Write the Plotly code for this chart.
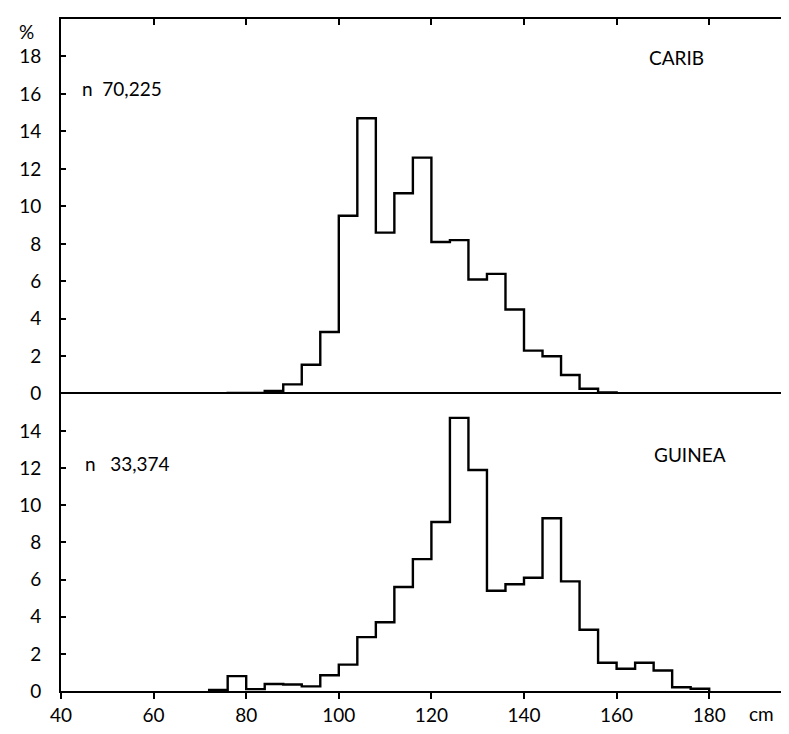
import plotly.graph_objects as go

# Bin left edges (cm), 4 cm wide bins
bin_edges = [72, 76, 80, 84, 88, 92, 96, 100, 104, 108, 112, 116, 120, 124,
             128, 132, 136, 140, 144, 148, 152, 156, 160, 164, 168, 172, 176, 180]
# Percent per bin
carib = [0, 0.05, 0.05, 0.15, 0.5, 1.55, 3.3, 9.5, 14.7, 8.6, 10.7, 12.6, 8.1, 8.2,
         6.1, 6.4, 4.5, 2.3, 2.0, 1.0, 0.27, 0.07, 0, 0, 0, 0, 0]
guinea = [0.05, 0.8, 0.1, 0.38, 0.35, 0.25, 0.85, 1.42, 2.9, 3.7, 5.6, 7.1, 9.1, 14.7,
          11.9, 5.4, 5.75, 6.1, 9.3, 5.9, 3.3, 1.52, 1.2, 1.52, 1.1, 0.2, 0.12]

x_ticks = [40, 60, 80, 100, 120, 140, 160, 180]
top_yticks = [0, 2, 4, 6, 8, 10, 12, 14, 16, 18]
bottom_yticks = [0, 2, 4, 6, 8, 10, 12, 14]

labels = {"carib": "CARIB", "guinea": "GUINEA",
          "n_carib": "n\u00a0\u00a070,225", "n_guinea": "n\u00a0\u00a0\u00a033,374"}


def steps(edges, vals):
    xs = [edges[0]]
    ys = [0]
    for i, v in enumerate(vals):
        xs.append(edges[i])
        ys.append(v)
    xs.append(edges[len(vals)])
    ys.append(0)
    return xs, ys


FONT = dict(family="Lato, 'Open Sans', sans-serif", size=19, color="black")
OFF = 8  # page body margin
W, H = 789 - 2 * OFF, 734 - 2 * OFF
ML, MT = 61 - OFF, 19 - OFF
MB = H - (695 - OFF)
MR = 0
PW, PH = W - ML - MR, H - MT - MB
split = 299 / PH

fig = go.Figure()
cx, cy = steps(bin_edges, carib)
gx, gy = steps(bin_edges, guinea)
fig.add_trace(go.Scatter(x=cx, y=cy, mode="lines", line=dict(shape="hv", color="black", width=2.4),
                         xaxis="x2", yaxis="y2", showlegend=False, hoverinfo="skip"))
fig.add_trace(go.Scatter(x=gx, y=gy, mode="lines", line=dict(shape="hv", color="black", width=2.4),
                         xaxis="x", yaxis="y", showlegend=False, hoverinfo="skip"))

xrange = [40, 40 + PW / 4.63]
fig.update_layout(
    width=W, height=H,
    margin=dict(l=ML, r=MR, t=MT, b=MB, pad=0),
    paper_bgcolor="white", plot_bgcolor="white",
    font=FONT,
    xaxis=dict(domain=[0, 1], range=xrange, tickvals=x_ticks, ticktext=[str(v) for v in x_ticks],
               ticks="outside", ticklen=6, tickwidth=2, tickcolor="black",
               showline=True, linecolor="black", linewidth=2, mirror=True,
               showgrid=False, zeroline=False, anchor="y", tickfont=FONT),
    yaxis=dict(domain=[0, split], range=[0, 16], tickvals=bottom_yticks,
               ticks="inside", ticklen=5, tickwidth=2, tickcolor="black",
               showline=True, linecolor="black", linewidth=2,
               showgrid=False, zeroline=False, anchor="x", tickfont=FONT,
               ticklabelstandoff=14),
    xaxis2=dict(domain=[0, 1], range=xrange, tickvals=x_ticks[1:], side="top",
                ticks="inside", ticklen=6, tickwidth=2, tickcolor="black",
                showticklabels=False, showline=True, linecolor="black", linewidth=2,
                showgrid=False, zeroline=False, anchor="y2"),
    yaxis2=dict(domain=[split, 1], range=[0, 20], tickvals=top_yticks,
                ticks="inside", ticklen=5, tickwidth=2, tickcolor="black",
                showline=True, linecolor="black", linewidth=2,
                showgrid=False, zeroline=False, anchor="x2", tickfont=FONT,
                ticklabelstandoff=14),
)


def px_to_paper(px, py):
    return (px - OFF - ML) / PW, (H - MB - (py - OFF)) / PH


annots = [
    (labels["n_carib"], 80, 89, "left"),
    (labels["carib"], 647, 58, "left"),
    (labels["n_guinea"], 83, 466, "left"),
    (labels["guinea"], 652, 457, "left"),
    ("%", 26, 32, "center"),
    ("cm", 747, 718, "left"),
]
for text, px, py, xa in annots:
    ax, ay = px_to_paper(px, py)
    fig.add_annotation(text=text, x=ax, y=ay, xref="paper", yref="paper",
                       xanchor=xa, yanchor="middle", showarrow=False, font=FONT)

fig.write_html("out.html")
